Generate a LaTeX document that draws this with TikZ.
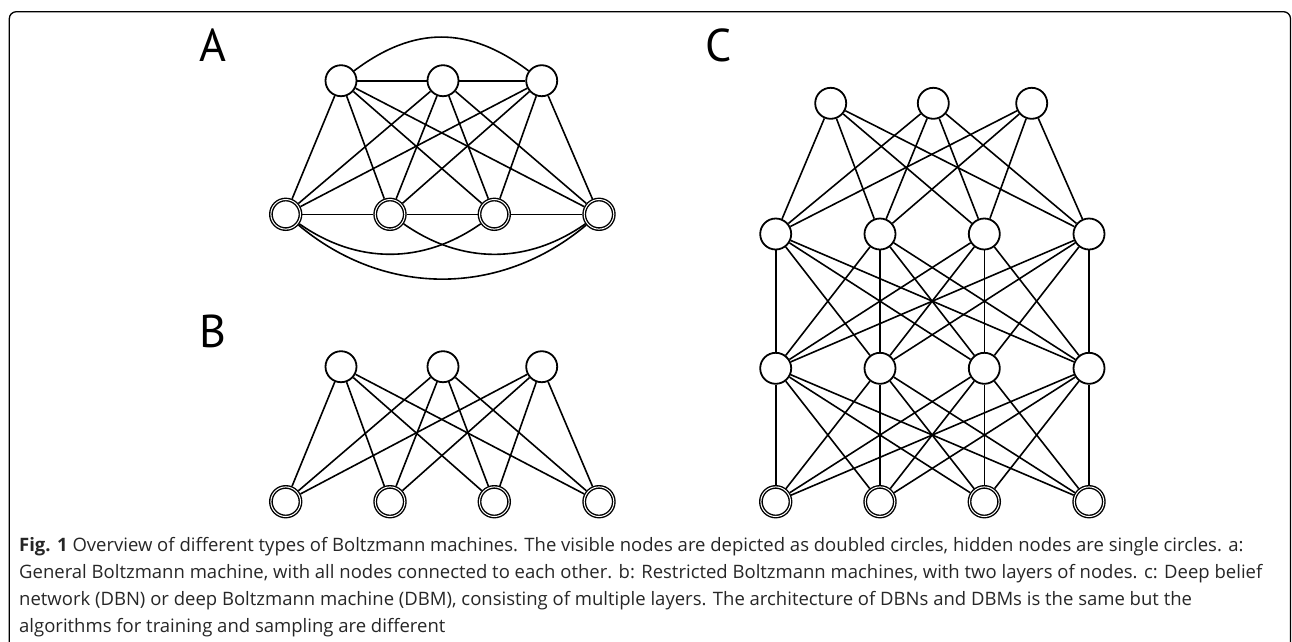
\documentclass[tikz,border=0pt]{standalone}
\usepackage{fontspec}
\setmainfont{PT Sans}
\newfontfamily\capfont{Open Sans}
\usetikzlibrary{backgrounds}

\tikzset{
  link/.style={line width=1.6pt, black},
  hid/.style={circle, draw, line width=1.8pt, fill=white, inner sep=0pt, minimum size=31pt},
  vis/.style={circle, draw, line width=1.4pt, double=white, double distance=1.0pt,
              fill=white, inner sep=0pt, minimum size=29.6pt, outer sep=1.9pt},
  panel/.style={font=\fontsize{46}{46}\selectfont, inner sep=0pt},
  capline/.style={anchor=base west, inner sep=0pt, font=\capfont\fontsize{18.5}{22}\selectfont, text=black!85},
  frame/.style={line width=1.3pt, rounded corners=7pt}
}

\begin{document}
\begin{tikzpicture}[x=1pt, y=-1pt]
\useasboundingbox (0,0) rectangle (1292,641);

% outer figure frame, open at the bottom
\draw[frame] (9.3,660) -- (9.3,11.7) -- (1290.5,11.7) -- (1290.5,660);

% panel letters
\node[panel] (la) at (213,45.5) {A};
\node[panel] (lb) at (213,331.5) {B};
\node[panel] (lc) at (719,45.5) {C};

% ---------- panel A: general Boltzmann machine ----------
\foreach \i/\x in {1/341,2/443,3/541.7} \node[hid] (ah\i) at (\x,80.7) {};
\foreach \i/\x in {1/285.7,2/390,3/494.3,4/599} \node[vis] (av\i) at (\x,214.3) {};
\begin{pgfonlayer}{background}
  \foreach \i in {1,2,3} \foreach \j in {1,2,3,4} \draw[link] (ah\i) -- (av\j);
  \draw[link] (ah1) -- (ah2);
  \draw[link] (ah2) -- (ah3);
  \draw[link] (ah1) to[out=37, in=143, looseness=1.1] (ah3);
  \draw[link] (av1) -- (av2);
  \draw[link] (av2) -- (av3);
  \draw[link] (av3) -- (av4);
  \draw[link] (av1) to[out=-35, in=-145] (av3);
  \draw[link] (av2) to[out=-35, in=-145] (av4);
  \draw[link] (av1) to[out=-40, in=-140] (av4);
\end{pgfonlayer}

% ---------- panel B: restricted Boltzmann machine ----------
\foreach \i/\x in {1/341,2/443,3/541.7} \node[hid] (bh\i) at (\x,366.7) {};
\foreach \i/\x in {1/285.7,2/390,3/494.3,4/599} \node[vis] (bv\i) at (\x,501.7) {};
\begin{pgfonlayer}{background}
  \foreach \i in {1,2,3} \foreach \j in {1,2,3,4} \draw[link] (bh\i) -- (bv\j);
\end{pgfonlayer}

% ---------- panel C: deep network ----------
\foreach \i/\x in {1/830.7,2/933.3,3/1031.7} \node[hid] (ct\i) at (\x,103.3) {};
\foreach \i/\x in {1/775.7,2/880,3/984.3,4/1089} {
  \node[hid] (cm\i) at (\x,234) {};
  \node[hid] (cn\i) at (\x,368.3) {};
  \node[vis] (cv\i) at (\x,501.7) {};
}
\begin{pgfonlayer}{background}
  \foreach \i in {1,2,3} \foreach \j in {1,2,3,4} \draw[link] (ct\i) -- (cm\j);
  \foreach \i in {1,2,3,4} \foreach \j in {1,2,3,4} {
    \draw[link] (cm\i) -- (cn\j);
    \draw[link] (cn\i) -- (cv\j);
  }
\end{pgfonlayer}

% ---------- caption ----------
\node[capline] (c1) at (19,551) {\textbf{Fig. 1} Overview of different types of Boltzmann machines. The visible nodes are depicted as doubled circles, hidden nodes are single circles. a:};
\node[capline] (c2) at (19,578) {General Boltzmann machine, with all nodes connected to each other. b: Restricted Boltzmann machines, with two layers of nodes. c: Deep belief};
\node[capline] (c3) at (19,605) {network (DBN) or deep Boltzmann machine (DBM), consisting of multiple layers. The architecture of DBNs and DBMs is the same but the};
\node[capline] (c4) at (19,632) {algorithms for training and sampling are different};
\end{tikzpicture}
\end{document}
